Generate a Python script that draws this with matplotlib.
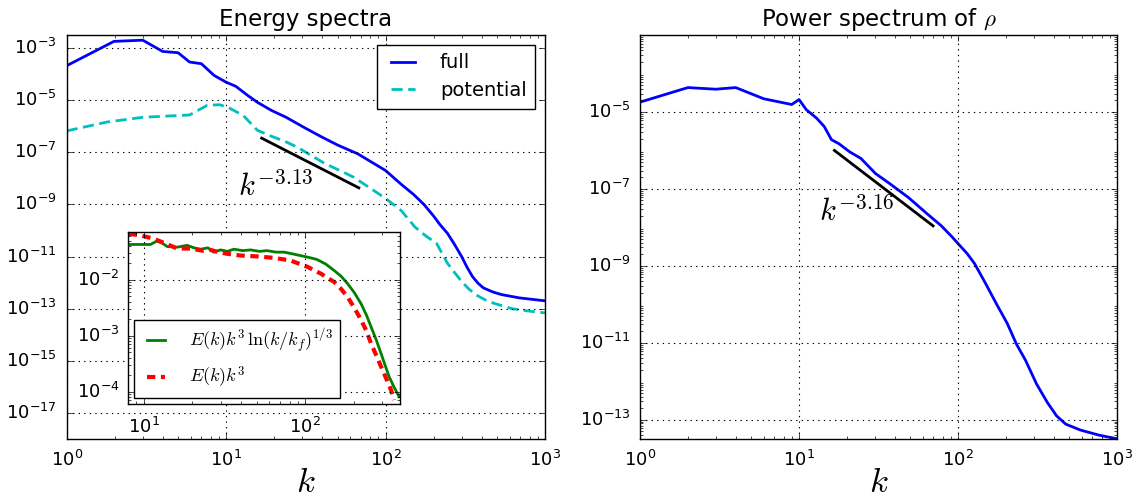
import numpy as np
import matplotlib
matplotlib.use("Agg")
import matplotlib.pyplot as plt
from matplotlib.ticker import FuncFormatter

# ---------------- data ----------------
# Energy spectra: full
k_full = [1, 1.98, 3.0, 4.0, 5.0, 5.9, 7.0, 8.4, 10, 11.5, 13.5, 15.7, 19.3, 23.8, 30.8, 40, 50, 67,
          100, 125, 150, 174, 200, 219, 244, 270, 300, 325, 351, 380, 410, 470, 531, 689, 1000]
E_full = [2.1e-4, 1.8e-3, 2.0e-3, 7.4e-4, 6.6e-4, 2.9e-4, 2.5e-4, 8.9e-5, 4.9e-5, 3.4e-5, 1.6e-5,
          8.3e-6, 4.0e-6, 2.2e-6, 9.0e-7, 3.8e-7, 1.9e-7, 8.7e-8,
          2.0e-8, 6.0e-9, 2.4e-9, 1.0e-9, 3.6e-10, 1.7e-10, 7.9e-11, 3.0e-11, 1.0e-11, 3.8e-12,
          1.7e-12, 9.5e-13, 6.3e-13, 4.4e-13, 3.5e-13, 2.6e-13, 2.0e-13]
# Energy spectra: potential
k_pot = [1, 1.79, 3.0, 5.9, 7.6, 9.1, 10.4, 12.8, 15.7, 19.3, 23.8, 27.8, 34.1, 42, 51.7, 63.2, 78,
         100, 125, 153, 180, 209, 244, 270, 300, 330, 366, 420, 480, 620, 800, 1000]
E_pot = [6.6e-7, 1.45e-6, 2.2e-6, 2.7e-6, 6.3e-6, 6.7e-6, 5.1e-6, 2.6e-6, 7.0e-7, 4.1e-7, 2.5e-7,
         1.6e-7, 7.6e-8, 3.6e-8, 2.0e-8, 1.1e-8, 4.7e-9,
         1.7e-9, 5.9e-10, 1.35e-10, 6.0e-11, 3.2e-11, 5.6e-12, 2.5e-12, 1.1e-12, 6.0e-13, 3.5e-13,
         2.2e-13, 1.6e-13, 1.0e-13, 8.0e-14, 6.9e-14]
# Power spectrum of rho
k_rho = [1, 2.0, 3.0, 4.0, 6.0, 9.0, 10, 11.1, 12.9, 14.4, 16.0, 17.8, 20.9, 24.5, 30.3, 37.4, 48.7,
         63.6, 78.5, 92, 100, 114, 127, 149, 174, 204, 233, 266, 312, 365, 417, 476, 589, 768, 1000]
P_rho = [1.8e-5, 4.3e-5, 3.9e-5, 4.3e-5, 2.2e-5, 1.56e-5, 2.1e-5, 1.15e-5, 6.9e-6, 4.2e-6, 1.9e-6,
         1.5e-6, 9.1e-7, 6.2e-7, 2.5e-7, 1.35e-7, 6.0e-8, 2.3e-8, 1.1e-8, 5.6e-9, 3.8e-9,
         2.1e-9, 1.15e-9, 3.5e-10, 1.05e-10, 3.2e-11, 9.3e-12, 3.5e-12, 8.5e-13, 2.8e-13,
         1.26e-13, 7.7e-14, 5.4e-14, 4.0e-14, 3.2e-14]
# Inset: compensated spectra
k_in_g = [8.07, 9.5, 11, 12.1, 13.0, 14.0, 16.1, 18.6, 20.5, 22.5, 25, 27.2, 29.9, 33, 36.2, 41, 46,
          52, 58, 66, 74, 83, 93, 105, 118, 134, 151, 167, 183, 202, 222, 240, 256, 275, 295, 312,
          331, 355, 382]
C_log = [0.0425, 0.0425, 0.0425, 0.049, 0.045, 0.039, 0.038, 0.041, 0.037, 0.035, 0.037, 0.031,
         0.034, 0.032, 0.035, 0.033, 0.034, 0.032, 0.033, 0.031, 0.031, 0.029, 0.027, 0.025, 0.023,
         0.019, 0.0146, 0.0115, 0.0085, 0.0058, 0.0037, 0.0023, 0.00143, 8.5e-4, 4.8e-4, 3.0e-4,
         1.85e-4, 1.2e-4, 8.1e-5]
k_in_r = [8.07, 9.5, 11.5, 14, 16.1, 19.5, 23, 26, 29, 32.9, 39.8, 50.5, 64, 81, 103, 125, 151, 167,
          183, 202, 222, 240, 256, 275, 295, 318, 340, 356]
C_k3 = [0.066, 0.062, 0.054, 0.043, 0.036, 0.036, 0.033, 0.034, 0.031, 0.029, 0.027, 0.026, 0.0245,
        0.022, 0.017, 0.0128, 0.0091, 0.0068, 0.0049, 0.0031, 0.0019, 0.0012, 7.2e-4, 4.5e-4,
        2.8e-4, 1.7e-4, 1.07e-4, 7.1e-5]
# power-law fits
fit_left_k = [16.7, 68]
fit_left_exp = -3.13
fit_left_amp = 2.35e-3
fit_right_k = [16.7, 69.7]
fit_right_exp = -3.16
fit_right_amp = 7.3e-3

# ---------------- style ----------------
plt.style.use("classic")
plt.rcParams.update({
    "figure.facecolor": "white",
    "savefig.facecolor": "white",
    "font.size": 13,
    "mathtext.fontset": "cm",
    "axes.unicode_minus": False,
    "lines.scale_dashes": False,
})


def sci(v, pos):
    e = int(round(np.log10(v)))
    return r"$\mathregular{10^{%d}}$" % e


fig = plt.figure(figsize=(11.34, 5.0), dpi=100)
axL = fig.add_axes([0.0588, 0.122, 0.4218, 0.808])
axR = fig.add_axes([0.5644, 0.122, 0.4206, 0.808])

for ax in (axL, axR):
    ax.set_xscale("log")
    ax.set_yscale("log")
    ax.grid(True, which="major", color="k", linestyle=":", linewidth=0.8)
    ax.xaxis.set_major_formatter(FuncFormatter(sci))
    ax.yaxis.set_major_formatter(FuncFormatter(sci))
    ax.tick_params(axis="x", labelsize=13, pad=8)
    ax.tick_params(axis="y", labelsize=13, pad=7)
    ax.set_xlim(1, 1000)
    ax.set_xlabel(r"$k$", fontsize=25, labelpad=-4)

# ---- left ----
axL.plot(k_full, E_full, color="b", lw=2, label="full")
axL.plot(k_pot, E_pot, color="c", lw=2, dashes=(8, 4), label="potential")
kk = np.array(fit_left_k)
axL.plot(kk, fit_left_amp * kk ** fit_left_exp, color="k", lw=2)
axL.text(11.9, 10 ** -8.65, r"$k^{-3.13}$", fontsize=22, ha="left", va="baseline")
axL.set_ylim(1e-18, 10 ** -2.5)
axL.set_yticks([10.0 ** e for e in range(-17, -2, 2)])
axL.set_title("Energy spectra", fontsize=16.5, y=1.005)
leg = axL.legend(loc="upper right", fontsize=14, handlelength=1.8, borderpad=0.45,
                 labelspacing=0.45, handletextpad=1.0, borderaxespad=0.5)
leg.get_frame().set_linewidth(1.0)

# ---- right ----
axR.plot(k_rho, P_rho, color="b", lw=2)
kk = np.array(fit_right_k)
axR.plot(kk, fit_right_amp * kk ** fit_right_exp, color="k", lw=2)
axR.text(13.3, 10 ** -7.83, r"$k^{-3.16}$", fontsize=22, ha="left", va="baseline")
axR.set_ylim(10 ** -13.5, 1e-3)
axR.set_yticks([10.0 ** e for e in range(-13, -4, 2)])
axR.set_title(r"Power spectrum of $\rho$", fontsize=16.5, y=1.005)

# ---- inset ----
axI = fig.add_axes([0.1129, 0.192, 0.2399, 0.344])
axI.set_xscale("log")
axI.set_yscale("log")
axI.plot(k_in_g, C_log, color="g", lw=2, label=r"$E(k)k^3\,\ln(k/k_f)^{1/3}$")
axI.plot(k_in_r, C_k3, color="r", lw=3, dashes=(6, 4), label=r"$E(k)k^3$")
axI.set_xlim(8.0, 387)
axI.set_ylim(6e-5, 0.071)
axI.grid(True, which="major", color="k", linestyle=":", linewidth=0.8)
axI.xaxis.set_major_formatter(FuncFormatter(sci))
axI.yaxis.set_major_formatter(FuncFormatter(sci))
axI.tick_params(axis="x", labelsize=13, pad=9)
axI.tick_params(axis="y", labelsize=13, pad=6)
legI = axI.legend(loc="lower left", fontsize=13, handlelength=1.6, borderpad=0.4,
                  labelspacing=0.5, handletextpad=1.0, borderaxespad=0.35)

fig.savefig("out.png", dpi=100)
